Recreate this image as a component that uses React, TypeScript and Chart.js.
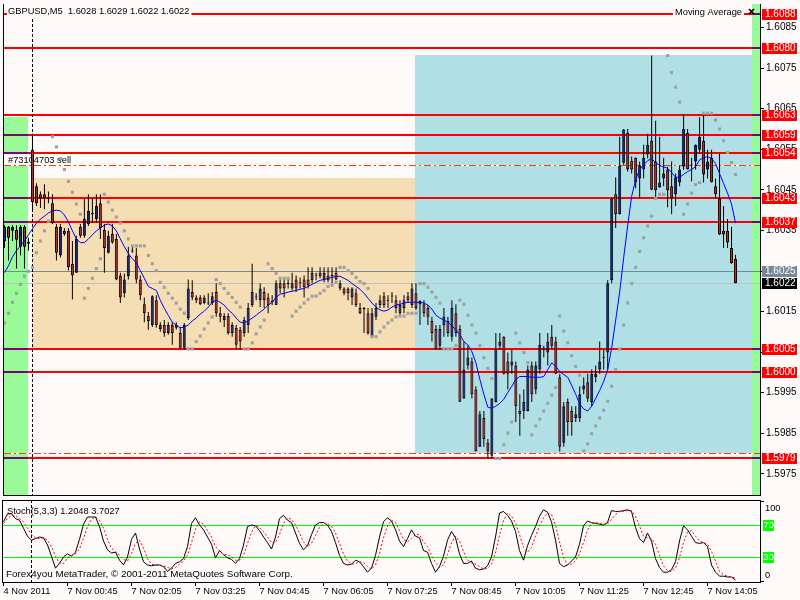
import React, { useEffect, useRef } from "react";
import { Chart, registerables } from "chart.js";

Chart.register(...registerables);

const FONT = "'Liberation Sans', Arial, sans-serif";
const SNOW = "#fffafa";
const BULL = "#1a2896";
const BEAR = "#dc2418";
const GREEN = "#98fb98";

// ---------------- data (GBPUSD M5) ----------------
const opens = [
  1.60324,1.60359,1.60349,1.60351,1.60310,1.60359,1.60322,1.60549,1.60459,1.60439,
  1.60439,1.60429,1.60417,1.60359,1.60288,1.60349,1.60349,1.60268,1.60246,1.60359,
  1.60337,1.60366,1.60393,1.60378,1.60417,1.60351,1.60295,1.60341,1.60329,1.60239,
  1.60195,1.60237,1.60300,1.60288,1.60229,1.60168,1.60139,1.60117,1.60178,1.60107,
  1.60117,1.60097,1.60117,1.60110,1.60097,1.60061,1.60134,1.60198,1.60185,1.60185,
  1.60171,1.60171,1.60171,1.60198,1.60146,1.60129,1.60139,1.60097,1.60110,1.60105,
  1.60097,1.60117,1.60166,1.60185,1.60178,1.60198,1.60185,1.60173,1.60166,1.60220,
  1.60220,1.60220,1.60207,1.60229,1.60220,1.60229,1.60229,1.60227,1.60239,1.60246,
  1.60227,1.60239,1.60239,1.60246,1.60207,1.60207,1.60207,1.60185,1.60195,1.60159,
  1.60159,1.60146,1.60088,1.60137,1.60166,1.60188,1.60178,1.60188,1.60178,1.60146,
  1.60159,1.60188,1.60166,1.60195,1.60168,1.60168,1.60159,1.60127,1.60107,1.60066,
  1.60117,1.60127,1.60088,1.60146,1.60107,1.59936,1.60017,1.60027,1.59958,1.59817,
  1.59888,1.59827,1.59795,1.59927,1.60066,1.60088,1.60027,1.60017,1.60017,1.59905,
  1.59905,1.59905,1.60017,1.59958,1.60007,1.60056,1.60049,1.60088,1.60076,1.59988,
  1.59827,1.59927,1.59905,1.59888,1.59888,1.59958,1.59976,1.59927,1.59988,1.60007,
  1.60037,1.60049,1.60227,1.60439,1.60390,1.60517,1.60590,1.60522,1.60529,1.60478,
  1.60500,1.60537,1.60571,1.60520,1.60456,1.60478,1.60500,1.60459,1.60439,1.60468,
  1.60507,1.60590,1.60511,1.60520,1.60549,1.60571,1.60500,1.60529,1.60459,1.60429,
  1.60349,1.60349,1.60307,1.60280,
];
const highs = [
  1.60363,1.60361,1.60363,1.60363,1.60363,1.60363,1.60332,1.60588,1.60466,1.60446,
  1.60464,1.60446,1.60439,1.60366,1.60366,1.60356,1.60356,1.60324,1.60337,1.60366,
  1.60429,1.60439,1.60429,1.60439,1.60439,1.60366,1.60349,1.60366,1.60341,1.60246,
  1.60244,1.60310,1.60310,1.60307,1.60239,1.60185,1.60149,1.60190,1.60190,1.60124,
  1.60129,1.60124,1.60124,1.60124,1.60112,1.60122,1.60229,1.60227,1.60190,1.60190,
  1.60190,1.60195,1.60198,1.60220,1.60161,1.60146,1.60146,1.60124,1.60117,1.60112,
  1.60137,1.60171,1.60268,1.60195,1.60220,1.60210,1.60195,1.60190,1.60227,1.60232,
  1.60232,1.60234,1.60246,1.60239,1.60234,1.60239,1.60259,1.60259,1.60246,1.60259,
  1.60259,1.60259,1.60259,1.60259,1.60227,1.60210,1.60210,1.60210,1.60207,1.60171,
  1.60161,1.60159,1.60159,1.60171,1.60190,1.60198,1.60190,1.60198,1.60190,1.60178,
  1.60190,1.60198,1.60220,1.60220,1.60178,1.60178,1.60166,1.60137,1.60117,1.60117,
  1.60159,1.60137,1.60178,1.60168,1.60117,1.60076,1.60066,1.60037,1.59966,1.59905,
  1.59905,1.59836,1.59937,1.60097,1.60097,1.60089,1.60049,1.60056,1.60027,1.59946,
  1.59958,1.60017,1.60027,1.60027,1.60097,1.60066,1.60097,1.60117,1.60088,1.59997,
  1.59927,1.59936,1.59917,1.59917,1.59966,1.59988,1.59997,1.60007,1.60017,1.60076,
  1.60056,1.60227,1.60429,1.60481,1.60581,1.60600,1.60600,1.60532,1.60530,1.60520,
  1.60561,1.60588,1.60781,1.60620,1.60581,1.60529,1.60507,1.60520,1.60490,1.60510,
  1.60637,1.60600,1.60529,1.60562,1.60629,1.60642,1.60549,1.60549,1.60478,1.60539,
  1.60410,1.60378,1.60359,1.60290,
];
const lows = [
  1.60307,1.60276,1.60324,1.60256,1.60288,1.60256,1.60300,1.60398,1.60410,1.60405,
  1.60402,1.60417,1.60366,1.60276,1.60283,1.60337,1.60251,1.60180,1.60246,1.60332,
  1.60332,1.60361,1.60368,1.60368,1.60329,1.60246,1.60293,1.60317,1.60227,1.60171,
  1.60185,1.60229,1.60295,1.60220,1.60178,1.60124,1.60105,1.60112,1.60110,1.60100,
  1.60088,1.60093,1.60068,1.60105,1.60056,1.60056,1.60129,1.60178,1.60171,1.60166,
  1.60168,1.60166,1.60166,1.60137,1.60124,1.60112,1.60093,1.60088,1.60056,1.60056,
  1.60088,1.60097,1.60161,1.60178,1.60161,1.60159,1.60146,1.60166,1.60166,1.60195,
  1.60185,1.60207,1.60202,1.60198,1.60207,1.60185,1.60207,1.60220,1.60227,1.60232,
  1.60222,1.60222,1.60220,1.60227,1.60202,1.60190,1.60178,1.60166,1.60161,1.60144,
  1.60097,1.60093,1.60085,1.60129,1.60159,1.60159,1.60159,1.60171,1.60146,1.60137,
  1.60146,1.60171,1.60159,1.60154,1.60117,1.60137,1.60117,1.60076,1.60056,1.60056,
  1.60088,1.60088,1.60076,1.60088,1.59927,1.59935,1.60007,1.59936,1.59805,1.59816,
  1.59817,1.59788,1.59788,1.59926,1.60056,1.59995,1.59958,1.59997,1.59878,1.59844,
  1.59885,1.59904,1.59927,1.59946,1.59997,1.60037,1.60017,1.60058,1.59996,1.59805,
  1.59817,1.59844,1.59844,1.59878,1.59878,1.59946,1.59927,1.59917,1.59976,1.59997,
  1.60007,1.60007,1.60220,1.60356,1.60389,1.60512,1.60495,1.60490,1.60454,1.60429,
  1.60478,1.60527,1.60449,1.60429,1.60455,1.60459,1.60407,1.60390,1.60410,1.60459,
  1.60499,1.60500,1.60471,1.60500,1.60539,1.60468,1.60478,1.60468,1.60429,1.60339,
  1.60307,1.60307,1.60268,1.60220,
];
const closes = [
  1.60359,1.60332,1.60359,1.60327,1.60359,1.60310,1.60317,1.60420,1.60417,1.60429,
  1.60429,1.60428,1.60368,1.60295,1.60359,1.60341,1.60259,1.60239,1.60329,1.60337,
  1.60378,1.60398,1.60390,1.60410,1.60356,1.60307,1.60337,1.60320,1.60229,1.60185,
  1.60229,1.60288,1.60298,1.60229,1.60190,1.60146,1.60127,1.60188,1.60117,1.60117,
  1.60097,1.60117,1.60097,1.60117,1.60061,1.60117,1.60207,1.60185,1.60178,1.60168,
  1.60185,1.60170,1.60188,1.60146,1.60137,1.60139,1.60097,1.60117,1.60068,1.60076,
  1.60129,1.60159,1.60198,1.60186,1.60207,1.60178,1.60166,1.60176,1.60220,1.60207,
  1.60207,1.60218,1.60220,1.60207,1.60221,1.60210,1.60215,1.60246,1.60240,1.60237,
  1.60246,1.60227,1.60238,1.60229,1.60220,1.60195,1.60195,1.60207,1.60166,1.60146,
  1.60156,1.60097,1.60146,1.60159,1.60178,1.60166,1.60177,1.60187,1.60159,1.60166,
  1.60178,1.60178,1.60207,1.60159,1.60176,1.60146,1.60137,1.60097,1.60058,1.60107,
  1.60137,1.60097,1.60159,1.60097,1.59928,1.60007,1.60037,1.59946,1.59806,1.59897,
  1.59836,1.59805,1.59936,1.60058,1.60076,1.59997,1.59997,1.60027,1.59917,1.59897,
  1.59927,1.60007,1.59946,1.60017,1.60068,1.60055,1.60076,1.60066,1.59997,1.59817,
  1.59917,1.59878,1.59878,1.59897,1.59946,1.59968,1.59936,1.59997,1.59997,1.60027,
  1.60036,1.60220,1.60428,1.60390,1.60510,1.60599,1.60500,1.60500,1.60468,1.60510,
  1.60529,1.60561,1.60450,1.60449,1.60468,1.60490,1.60449,1.60429,1.60481,1.60500,
  1.60600,1.60501,1.60510,1.60561,1.60581,1.60488,1.60520,1.60469,1.60439,1.60340,
  1.60340,1.60320,1.60269,1.60220,
];
const movingAverage = [
  1.60246,1.60263,1.60285,1.60300,1.60312,1.60324,1.60339,1.60354,1.60368,1.60378,
  1.60385,1.60393,1.60398,1.60400,1.60398,1.60388,1.60371,1.60349,1.60329,1.60320,
  1.60320,1.60329,1.60339,1.60349,1.60356,1.60363,1.60366,1.60361,1.60349,1.60329,
  1.60310,1.60293,1.60280,1.60271,1.60251,1.60232,1.60212,1.60207,1.60202,1.60178,
  1.60158,1.60141,1.60124,1.60117,1.60110,1.60112,1.60117,1.60127,1.60134,1.60144,
  1.60151,1.60161,1.60173,1.60178,1.60173,1.60166,1.60154,1.60146,1.60134,1.60124,
  1.60122,1.60127,1.60134,1.60141,1.60149,1.60156,1.60166,1.60173,1.60185,1.60193,
  1.60195,1.60198,1.60200,1.60202,1.60205,1.60207,1.60212,1.60217,1.60222,1.60227,
  1.60229,1.60232,1.60234,1.60237,1.60237,1.60232,1.60227,1.60219,1.60212,1.60205,
  1.60195,1.60183,1.60171,1.60161,1.60154,1.60151,1.60154,1.60161,1.60166,1.60168,
  1.60171,1.60173,1.60173,1.60173,1.60173,1.60171,1.60166,1.60156,1.60141,1.60134,
  1.60129,1.60124,1.60115,1.60105,1.60093,1.60076,1.60068,1.60051,1.60024,1.59983,
  1.59946,1.59914,1.59912,1.59917,1.59924,1.59934,1.59951,1.59966,1.59983,1.59990,
  1.59990,1.59990,1.59988,1.59988,1.59988,1.59990,1.60007,1.60024,1.60015,1.60002,
  1.59995,1.59988,1.59968,1.59946,1.59922,1.59910,1.59905,1.59917,1.59936,1.59956,
  1.59978,1.60007,1.60061,1.60129,1.60198,1.60283,1.60361,1.60434,1.60476,1.60500,
  1.60512,1.60522,1.60527,1.60517,1.60510,1.60507,1.60503,1.60493,1.60481,1.60481,
  1.60488,1.60495,1.60500,1.60507,1.60524,1.60529,1.60532,1.60527,1.60515,1.60490,
  1.60466,1.60442,1.60415,1.60368,
];
const parabolicSar = [
  1.60122,1.60146,1.60173,1.60195,1.60217,1.60237,1.60249,1.60259,1.60295,1.60324,
  1.60349,1.60373,1.60581,1.60556,1.60527,1.60500,1.60471,1.60444,1.60415,1.60390,
  1.60183,1.60207,1.60232,1.60256,1.60280,1.60439,1.60420,1.60400,1.60383,1.60368,
  1.60349,1.60329,1.60312,1.60312,1.60312,1.60312,1.60288,1.60268,1.60251,1.60222,
  1.60210,1.60195,1.60183,1.60171,1.60156,1.60146,1.60058,1.60058,1.60076,1.60090,
  1.60107,1.60122,1.60137,1.60229,1.60219,1.60207,1.60195,1.60185,1.60173,1.60161,
  1.60058,1.60058,1.60073,1.60095,1.60112,1.60129,1.60268,1.60256,1.60244,1.60232,
  1.60232,1.60232,1.60139,1.60151,1.60161,1.60171,1.60180,1.60188,1.60188,1.60195,
  1.60202,1.60212,1.60215,1.60222,1.60259,1.60259,1.60251,1.60244,1.60234,1.60224,
  1.60219,1.60207,1.60088,1.60088,1.60100,1.60112,1.60122,1.60129,1.60137,1.60139,
  1.60139,1.60146,1.60146,1.60146,1.60219,1.60219,1.60210,1.60198,1.60185,1.60171,
  1.60058,1.60058,1.60058,1.60066,1.60178,1.60168,1.60141,1.60117,1.60097,1.60066,
  1.60036,1.60010,1.59985,1.59788,1.59788,1.59822,1.59851,1.59878,1.60097,1.60073,
  1.60049,1.60024,1.59846,1.59868,1.59885,1.59905,1.59924,1.59944,1.59963,1.60139,
  1.60102,1.60073,1.60041,1.60015,1.59993,1.59807,1.59824,1.59849,1.59868,1.59888,
  1.59907,1.59929,1.59966,1.60007,1.60058,1.60117,1.60171,1.60219,1.60259,1.60298,
  1.60332,1.60361,1.60385,1.60429,1.60439,1.60439,1.60781,1.60739,1.60703,1.60666,
  1.60390,1.60415,1.60442,1.60463,1.60468,1.60639,1.60639,1.60639,1.60622,1.60600,
  1.60571,1.60542,1.60517,1.60488,
];
const stochMain = [
  74,84,84,78,76,66,56,51,53,55,
  54,45,31,16,22,30,34,31,36,52,
  71,80,80,80,68,50,39,35,36,26,
  20,30,52,60,40,24,20,19,20,20,
  18,12,16,22,24,28,43,72,79,70,
  64,55,46,29,38,33,29,27,22,28,
  45,68,70,69,63,55,48,40,55,78,
  82,76,73,60,47,39,44,58,70,73,
  73,70,62,48,32,22,20,21,26,24,
  18,11,16,32,55,74,79,75,64,50,
  43,53,64,56,54,38,36,22,11,18,
  31,51,62,54,34,22,22,25,16,14,
  15,19,30,55,85,87,82,75,62,38,
  26,44,57,68,81,89,86,74,51,22,
  18,20,25,30,46,69,75,73,72,71,
  70,73,88,87,87,88,89,87,67,53,
  48,60,50,28,17,11,11,14,24,50,
  69,64,56,48,47,48,43,20,11,6,
  6,5,5,1.2048,
];
const stochSignal = [
  72,78,82,82,78,74,66,58,54,53,
  54,51,43,31,22,22,29,32,34,40,
  53,68,77,80,76,66,52,41,37,32,
  27,25,34,47,51,41,28,21,20,20,
  19,17,15,17,21,25,32,48,65,74,
  71,63,55,43,38,33,33,30,26,26,
  32,47,61,69,67,62,55,48,48,58,
  72,79,77,70,60,49,43,47,57,67,
  72,72,68,60,47,34,25,21,22,24,
  23,18,15,20,34,54,69,76,73,63,
  52,49,53,58,58,49,43,32,23,17,
  20,33,48,56,50,37,26,23,21,18,
  15,16,21,35,57,76,85,81,73,58,
  42,36,42,56,69,79,85,83,70,49,
  30,20,21,25,34,48,63,72,73,72,
  71,71,77,83,87,87,88,88,81,69,
  56,54,53,46,32,19,13,12,16,29,
  48,61,63,56,50,48,46,37,25,12,
  8,6,5,3.7027,
];
const timeLabels = [
  "4 Nov 2011", "7 Nov 00:45", "7 Nov 02:05", "7 Nov 03:25", "7 Nov 04:45", "7 Nov 06:05",
  "7 Nov 07:25", "7 Nov 08:45", "7 Nov 10:05", "7 Nov 11:25", "7 Nov 12:45", "7 Nov 14:05",
];
const timeLabelBars = [0, 16, 32, 48, 64, 80, 96, 112, 128, 144, 160, 176];
const priceTicks = [1.5975, 1.5985, 1.5995, 1.6005, 1.6015, 1.6025, 1.6035, 1.6045, 1.6055, 1.6065, 1.6075, 1.6085];
const levelPrices = [1.60884, 1.6080, 1.60635, 1.60586, 1.6054, 1.6043, 1.6037, 1.60058, 1.6000, 1.5979];
const levelLabels = ["1.6088", "1.6080", "1.6063", "1.6059", "1.6054", "1.6043", "1.6037", "1.6005", "1.6000", "1.5979"];
const orderPrices = [1.60512, 1.59801];
const orderText = "#73104703 sell";
const askPrice = 1.6025;
const bidPrice = 1.6022;
const separatorBar = 7;
const zoneFrom = [-0.125, 6.875, 102.875, 187.125];
const zoneTo = [5.875, 102.875, 187.125, 189.125];
const zoneHigh = [1.60629, 1.60480, 1.60782, 1.60908];
const zoneLow = [1.59698, 1.60059, 1.59800, 1.59698];
const zoneColors = [GREEN, "#f5deb3", "#b0e0e6", GREEN];
const stochLevels = [70, 30];

const symbolText = "GBPUSD,M5";
const stochName = "Stoch(5,3,3)";
const copyright = "Forex4you MetaTrader, \u00a9 2001-2011 MetaQuotes Software Corp.";

const X_MIN = -0.125;
const X_MAX = 189.125;

function hLine(ctx: any, x1: number, x2: number, y: number, color: string, w: number) {
  ctx.strokeStyle = color;
  ctx.lineWidth = w;
  ctx.beginPath();
  ctx.moveTo(x1, y);
  ctx.lineTo(x2, y);
  ctx.stroke();
}

const mainDecor = {
  id: "mainDecor",
  beforeDatasetsDraw(chart: any) {
    const { ctx, chartArea: a, scales } = chart;
    const xs = scales.x, ys = scales.y;
    const px = (v: number) => Math.round(xs.getPixelForValue(v));
    const py = (v: number) => Math.round(ys.getPixelForValue(v));
    ctx.save();
    ctx.fillStyle = SNOW;
    ctx.fillRect(a.left, a.top, a.right - a.left, a.bottom - a.top);
    zoneFrom.forEach((f, k) => {
      const x1 = Math.max(px(f), a.left), x2 = Math.min(px(zoneTo[k]), a.right);
      const y1 = Math.max(py(zoneHigh[k]), a.top), y2 = Math.min(py(zoneLow[k]), a.bottom);
      ctx.fillStyle = zoneColors[k];
      ctx.fillRect(x1, y1, x2 - x1, y2 - y1);
    });
    // order label
    const yo = py(orderPrices[0]);
    ctx.font = `9.3px ${FONT}`;
    const tw = ctx.measureText(orderText).width;
    ctx.fillStyle = "#ffffff";
    ctx.fillRect(a.left, yo - 11, tw + 8, 12);
    ctx.fillStyle = "#000";
    ctx.textBaseline = "middle";
    ctx.textAlign = "left";
    ctx.fillText(orderText, a.left + 4, yo - 5);
    // horizontal levels
    levelPrices.forEach((p) => {
      const yy = py(p);
      hLine(ctx, a.left, a.right, yy, "#ff0000", 2);
      zoneFrom.forEach((f, k) => {
        if (zoneColors[k] !== GREEN) return;
        const zt = py(zoneHigh[k]), zb = py(zoneLow[k]);
        if (yy >= zt && yy <= zb) {
          hLine(ctx, Math.max(px(f), a.left), Math.min(px(zoneTo[k]), a.right), yy, "#800080", 2);
        }
      });
    });
    hLine(ctx, a.left, a.right, py(askPrice) + 0.5, "#778899", 1);
    hLine(ctx, a.left, a.right, py(bidPrice) + 0.5, "#c0c0c0", 1);
    orderPrices.forEach((p) => {
      const yy = py(p) + 0.5;
      hLine(ctx, a.left, a.right, yy, "#ffffff", 1);
      ctx.setLineDash([7, 3, 2, 3]);
      hLine(ctx, a.left, a.right, yy, "#ff3c00", 1);
      ctx.setLineDash([]);
    });
    // period separator
    const sx = Math.floor(xs.getPixelForValue(separatorBar)) + 0.5;
    ctx.strokeStyle = "#000";
    ctx.lineWidth = 1;
    ctx.setLineDash([3, 2]);
    ctx.beginPath();
    ctx.moveTo(sx, a.top);
    ctx.lineTo(sx, a.bottom);
    ctx.stroke();
    ctx.setLineDash([]);
    ctx.restore();
  },
  afterDatasetsDraw(chart: any) {
    const { ctx, chartArea: a } = chart;
    const last = opens.length - 1;
    const header = `${symbolText}  ${opens[last].toFixed(4)} ${highs[last].toFixed(4)} ${lows[last].toFixed(4)} ${closes[last].toFixed(4)}`;
    ctx.save();
    ctx.font = `9.3px ${FONT}`;
    ctx.textBaseline = "middle";
    ctx.textAlign = "left";
    const w = ctx.measureText(header).width;
    ctx.fillStyle = SNOW;
    ctx.fillRect(a.left + 3, 4, w + 3, 14);
    ctx.fillStyle = "#000";
    ctx.fillText(header, a.left + 4, 11.5);
    // indicator label top-right
    const label = "Moving Average";
    const lw = ctx.measureText(label).width;
    const rx = a.right - 18;
    ctx.fillStyle = SNOW;
    ctx.fillRect(rx - lw - 2, 4, lw + 4, 14);
    ctx.fillStyle = "#000";
    ctx.fillText(label, rx - lw, 12);
    // close icon
    ctx.strokeStyle = "#000";
    ctx.lineWidth = 1.6;
    ctx.beginPath();
    ctx.moveTo(a.right - 11, 9);
    ctx.lineTo(a.right - 6, 14);
    ctx.moveTo(a.right - 6, 9);
    ctx.lineTo(a.right - 11, 14);
    ctx.stroke();
    ctx.restore();
  },
  afterDraw(chart: any) {
    const { ctx, chartArea: a, scales } = chart;
    const ys = scales.y;
    const py = (v: number) => Math.round(ys.getPixelForValue(v));
    ctx.save();
    ctx.font = `10px ${FONT}`;
    ctx.textBaseline = "middle";
    ctx.textAlign = "left";
    const boxX = a.right + 2;
    const drawBox = (yy: number, bg: string, text: string) => {
      ctx.fillStyle = bg;
      ctx.fillRect(boxX, yy - 5, 35, 11);
      ctx.fillStyle = "#ffffff";
      ctx.fillText(text, boxX + 3, yy + 0.5);
    };
    levelPrices.forEach((p, k) => drawBox(py(p), "#ff0000", levelLabels[k]));
    drawBox(py(askPrice), "#778899", askPrice.toFixed(4));
    drawBox(py(bidPrice), "#000000", bidPrice.toFixed(4));
    // frame
    ctx.strokeStyle = "#000";
    ctx.lineWidth = 1;
    ctx.beginPath();
    ctx.moveTo(a.left - 0.5, a.top);
    ctx.lineTo(a.left - 0.5, a.bottom + 1);
    ctx.moveTo(a.left - 1, a.bottom + 0.5);
    ctx.lineTo(a.right, a.bottom + 0.5);
    ctx.stroke();
    ctx.restore();
  },
};

const stochDecor = {
  id: "stochDecor",
  beforeDatasetsDraw(chart: any) {
    const { ctx, chartArea: a, scales } = chart;
    const xs = scales.x, ys = scales.y;
    ctx.save();
    ctx.fillStyle = SNOW;
    ctx.fillRect(a.left, a.top, a.right - a.left, a.bottom - a.top);
    stochLevels.forEach((v) => {
      hLine(ctx, a.left, a.right, Math.round(ys.getPixelForValue(v)) + 0.5, "#00ff00", 1);
    });
    const sx = Math.floor(xs.getPixelForValue(separatorBar)) + 0.5;
    ctx.strokeStyle = "#000";
    ctx.lineWidth = 1;
    ctx.setLineDash([3, 2]);
    ctx.beginPath();
    ctx.moveTo(sx, a.top);
    ctx.lineTo(sx, a.bottom);
    ctx.stroke();
    ctx.setLineDash([]);
    ctx.restore();
  },
  afterDatasetsDraw(chart: any) {
    const { ctx, chartArea: a } = chart;
    const last = stochMain.length - 1;
    ctx.save();
    ctx.textBaseline = "middle";
    ctx.textAlign = "left";
    ctx.fillStyle = "#000";
    ctx.font = `9.3px ${FONT}`;
    ctx.fillText(`${stochName} ${stochMain[last].toFixed(4)} ${stochSignal[last].toFixed(4)}`, a.left + 4, a.top + 11);
    ctx.font = `9.9px ${FONT}`;
    ctx.fillText(copyright, a.left + 3, a.bottom - 7.5);
    ctx.restore();
  },
  afterDraw(chart: any) {
    const { ctx, chartArea: a, scales } = chart;
    const ys = scales.y;
    const py = (v: number) => Math.round(ys.getPixelForValue(v));
    ctx.save();
    ctx.strokeStyle = "#000";
    ctx.lineWidth = 1;
    ctx.beginPath();
    ctx.moveTo(a.left - 1, a.top + 0.5);
    ctx.lineTo(a.right, a.top + 0.5);
    ctx.moveTo(a.left - 0.5, a.top);
    ctx.lineTo(a.left - 0.5, a.bottom + 1);
    ctx.moveTo(a.right, py(100) + 0.5);
    ctx.lineTo(a.right + 4, py(100) + 0.5);
    ctx.moveTo(a.right, py(0) + 0.5);
    ctx.lineTo(a.right + 4, py(0) + 0.5);
    ctx.stroke();
    ctx.font = `9.3px ${FONT}`;
    ctx.textBaseline = "middle";
    ctx.textAlign = "left";
    ctx.fillStyle = "#000";
    ctx.fillText("100", a.right + 5, py(100) + 7);
    ctx.fillText("0", a.right + 5, py(0) - 6);
    stochLevels.forEach((v) => {
      const yy = py(v);
      ctx.fillStyle = "#00ff00";
      ctx.fillRect(a.right + 3, yy - 5, 11, 11);
      ctx.fillStyle = "#ffffff";
      ctx.fillText(String(v), a.right + 3.5, yy + 0.5);
    });
    ctx.restore();
  },
};

export default function App() {
  const mainRef = useRef<HTMLCanvasElement>(null);
  const stochRef = useRef<HTMLCanvasElement>(null);

  useEffect(() => {
    const idx = opens.map((_, i) => i);
    const wickData = idx.map((i) => ({ x: i, y: [lows[i], highs[i]] }));
    const bodyData = idx.map((i) => ({ x: i, y: [opens[i], closes[i]] }));
    const bodyColors = idx.map((i) => (closes[i] >= opens[i] ? BULL : BEAR));

    const main = new Chart(mainRef.current as HTMLCanvasElement, {
      type: "bar",
      data: {
        datasets: [
          {
            type: "line",
            label: "Parabolic SAR",
            data: parabolicSar.map((v, i) => ({ x: i, y: v })),
            showLine: false,
            pointStyle: "rect",
            pointRadius: 2.2,
            pointBackgroundColor: "#a0a0a0",
            pointBorderWidth: 0,
            order: 0,
          } as any,
          {
            type: "line",
            label: "Moving Average",
            data: movingAverage.map((v, i) => ({ x: i, y: v })),
            borderColor: "#0000ff",
            borderWidth: 1,
            pointRadius: 0,
            tension: 0,
            order: 1,
          } as any,
          {
            type: "bar",
            label: "body",
            data: bodyData,
            backgroundColor: bodyColors,
            borderColor: "#000000",
            borderWidth: 1,
            borderSkipped: false,
            barThickness: 3,
            minBarLength: 1,
            grouped: false,
            inflateAmount: 0,
            order: 2,
          } as any,
          {
            type: "bar",
            label: "wick",
            data: wickData,
            backgroundColor: "#000000",
            borderWidth: 0,
            barThickness: 1,
            grouped: false,
            inflateAmount: 0,
            order: 3,
          } as any,
        ],
      },
      options: {
        responsive: false,
        animation: false,
        devicePixelRatio: 1,
        events: [],
        layout: { padding: { left: 3, top: 0, right: 0, bottom: 1 } },
        plugins: { legend: { display: false }, tooltip: { enabled: false } },
        scales: {
          x: {
            type: "linear",
            min: X_MIN,
            max: X_MAX,
            offset: false,
            display: false,
          },
          y: {
            type: "linear",
            position: "right",
            min: 1.59698,
            max: 1.60908,
            afterBuildTicks: (s: any) => {
              s.ticks = priceTicks.map((v) => ({ value: v }));
            },
            afterFit: (s: any) => {
              s.width = 40;
              s.paddingTop = 0;
              s.paddingBottom = 0;
            },
            ticks: {
              autoSkip: false,
              padding: 2,
              color: "#000",
              font: { family: FONT, size: 10 },
              callback: (v: any) => Number(v).toFixed(4),
            },
            grid: { drawOnChartArea: false, drawTicks: true, tickLength: 4, color: "#000" },
            border: { display: true, color: "#000", width: 1 },
          },
        },
      } as any,
      plugins: [mainDecor],
    });

    const stoch = new Chart(stochRef.current as HTMLCanvasElement, {
      type: "line",
      data: {
        datasets: [
          {
            label: "Signal",
            data: stochSignal.map((v, i) => ({ x: i, y: v })),
            borderColor: "#ff0000",
            borderWidth: 1,
            borderDash: [2, 2],
            pointRadius: 0,
            tension: 0,
            order: 0,
          },
          {
            label: "Main",
            data: stochMain.map((v, i) => ({ x: i, y: v })),
            borderColor: "#000000",
            borderWidth: 1,
            pointRadius: 0,
            tension: 0,
            order: 1,
          },
        ],
      },
      options: {
        responsive: false,
        animation: false,
        devicePixelRatio: 1,
        events: [],
        layout: { padding: { left: 3, top: 1, right: 0, bottom: 0 } },
        plugins: { legend: { display: false }, tooltip: { enabled: false } },
        scales: {
          x: {
            type: "linear",
            min: X_MIN,
            max: X_MAX,
            offset: false,
            afterBuildTicks: (s: any) => {
              s.ticks = timeLabelBars.map((v) => ({ value: v }));
            },
            afterFit: (s: any) => {
              s.height = 18;
              s.paddingLeft = 0;
              s.paddingRight = 0;
            },
            ticks: {
              autoSkip: false,
              maxRotation: 0,
              minRotation: 0,
              align: "start",
              padding: 0,
              color: "#000",
              font: { family: FONT, size: 9.3 },
              callback: (_v: any, i: number) => timeLabels[i],
            },
            grid: { drawOnChartArea: false, drawTicks: true, tickLength: 4, color: "#000" },
            border: { display: true, color: "#000", width: 1 },
          },
          y: {
            type: "linear",
            position: "right",
            min: -1.25,
            max: 101.25,
            afterFit: (s: any) => {
              s.width = 40;
              s.paddingTop = 0;
              s.paddingBottom = 0;
            },
            ticks: { display: false },
            grid: { display: false },
            border: { display: true, color: "#000", width: 1 },
          },
        },
      } as any,
      plugins: [stochDecor],
    });

    return () => {
      main.destroy();
      stoch.destroy();
    };
  }, []);

  return (
    <div style={{ position: "absolute", left: 0, top: 0, width: 800, height: 600, background: SNOW, overflow: "hidden" }}>
      <canvas
        ref={mainRef}
        width={800}
        height={499}
        style={{ position: "absolute", left: 0, top: 0, width: 800, height: 499 }}
      />
      <canvas
        ref={stochRef}
        width={800}
        height={101}
        style={{ position: "absolute", left: 0, top: 499, width: 800, height: 101 }}
      />
    </div>
  );
}
